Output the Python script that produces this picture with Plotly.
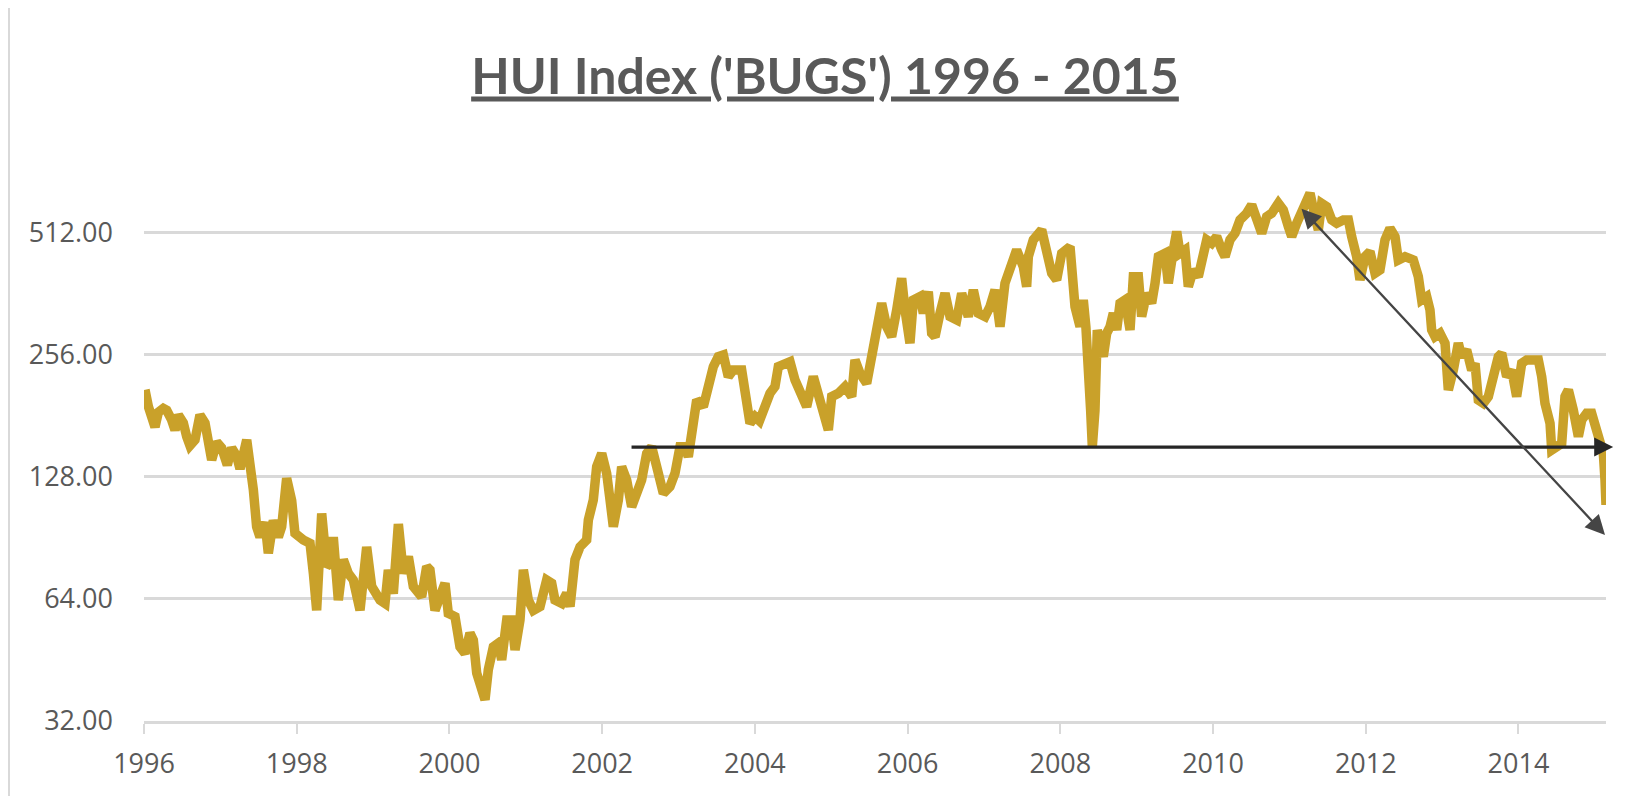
import math
import plotly.graph_objects as go

# ---- data (decimal year, index level) ----
years = [
    1996.013, 1996.057, 1996.144, 1996.188, 1996.253, 1996.297, 1996.362, 1996.406, 1996.450, 1996.515,
    1996.559, 1996.602, 1996.668, 1996.733, 1996.799, 1996.842, 1996.886, 1996.952, 1997.017, 1997.091,
    1997.148, 1997.214, 1997.257, 1997.345, 1997.388, 1997.432, 1997.475, 1997.519, 1997.585, 1997.628,
    1997.694, 1997.759, 1997.803, 1997.868, 1997.934, 1997.977, 1998.087, 1998.174, 1998.218, 1998.261,
    1998.327, 1998.392, 1998.436, 1998.479, 1998.545, 1998.610, 1998.676, 1998.741, 1998.829, 1998.916,
    1998.982, 1999.091, 1999.156, 1999.200, 1999.265, 1999.331, 1999.396, 1999.462, 1999.527, 1999.636,
    1999.702, 1999.745, 1999.811, 1999.898, 1999.942, 1999.985,
    2000.073, 2000.138, 2000.204, 2000.269, 2000.313, 2000.357, 2000.422, 2000.466, 2000.509, 2000.575,
    2000.640, 2000.684, 2000.750, 2000.815, 2000.859, 2000.924, 2000.968, 2001.033, 2001.099, 2001.186,
    2001.273, 2001.339, 2001.382, 2001.470, 2001.535, 2001.579, 2001.644, 2001.710, 2001.797, 2001.819,
    2001.884, 2001.928, 2001.994, 2002.059, 2002.103, 2002.146, 2002.212, 2002.255, 2002.321, 2002.386,
    2002.452, 2002.517, 2002.583, 2002.648, 2002.714, 2002.801, 2002.888, 2002.954, 2003.019, 2003.085,
    2003.128, 2003.172, 2003.238, 2003.325, 2003.390, 2003.456, 2003.521, 2003.587, 2003.652, 2003.718,
    2003.827, 2003.871, 2003.936, 2004.002, 2004.060,
    2004.198, 2004.263, 2004.307, 2004.373, 2004.460, 2004.525, 2004.591, 2004.678, 2004.765, 2004.831,
    2004.896, 2004.962, 2005.006, 2005.093, 2005.180, 2005.268, 2005.311, 2005.377, 2005.464, 2005.508,
    2005.573, 2005.617, 2005.660, 2005.726, 2005.791, 2005.857, 2005.922, 2005.966, 2006.031, 2006.075,
    2006.162, 2006.206, 2006.271, 2006.315, 2006.359, 2006.424, 2006.490, 2006.555, 2006.643, 2006.708,
    2006.795, 2006.861, 2006.926, 2007.014, 2007.079, 2007.145, 2007.210, 2007.275, 2007.341, 2007.428,
    2007.515, 2007.559, 2007.581, 2007.646, 2007.756, 2007.821, 2007.887, 2007.952, 2008.018, 2008.127,
    2008.170, 2008.192, 2008.258, 2008.301, 2008.335, 2008.367, 2008.397, 2008.419, 2008.454, 2008.484,
    2008.520, 2008.563, 2008.607, 2008.651, 2008.694, 2008.738, 2008.782, 2008.847, 2008.913, 2008.956,
    2009.022, 2009.065, 2009.131, 2009.196, 2009.240, 2009.284, 2009.371, 2009.414, 2009.480, 2009.524,
    2009.567, 2009.633, 2009.676, 2009.742, 2009.807, 2009.851, 2009.917, 2009.982, 2010.047, 2010.113,
    2010.157, 2010.222, 2010.288, 2010.353, 2010.440, 2010.506, 2010.571, 2010.637, 2010.702, 2010.768,
    2010.855, 2010.920, 2010.986, 2011.030, 2011.095, 2011.161, 2011.226, 2011.270, 2011.335, 2011.379,
    2011.423, 2011.488, 2011.554, 2011.619, 2011.706, 2011.772, 2011.815, 2011.881, 2011.924,
    2011.990, 2012.055, 2012.121, 2012.186, 2012.252, 2012.317, 2012.383, 2012.426, 2012.514, 2012.623,
    2012.688, 2012.732, 2012.798, 2012.841, 2012.863, 2012.907, 2012.972, 2013.038, 2013.081, 2013.147,
    2013.212, 2013.256, 2013.321, 2013.387, 2013.431, 2013.474, 2013.540, 2013.605, 2013.671, 2013.736,
    2013.780, 2013.845, 2013.911, 2013.976, 2014.042, 2014.107, 2014.195, 2014.260, 2014.304, 2014.347,
    2014.413, 2014.435, 2014.500, 2014.566, 2014.609, 2014.653, 2014.718, 2014.784, 2014.828, 2014.893,
    2014.958, 2015.024, 2015.068, 2015.111, 2015.133, 2015.146,
]

hui = [
    210, 191, 170, 185, 189, 187, 177, 167, 182, 174,
    161, 153, 158, 182, 174, 158, 141, 156, 151, 137,
    151, 144, 134, 158, 141, 119, 96.5, 91, 99, 83,
    100, 91, 96.5, 127, 112, 93, 89.5, 87.8, 74, 60,
    104, 77, 78.4, 91, 63.6, 80, 74, 71.3, 60, 86,
    68.7, 63.6, 62.4, 75.5, 66, 98, 74, 81.4, 68.7, 64.8,
    77, 75.5, 60, 67.4, 70, 59,
    57.9, 48.8, 47, 52.7, 50.7, 42, 37.5, 36.1, 42.8, 48.8,
    49.8, 45.3, 56.8, 56.8, 47.9, 56.8, 75.5, 63.6, 60, 61.3,
    71.3, 70, 63.6, 62.4, 66.1, 61.3, 80, 86.1, 89.5, 100.2,
    112.3, 135.7, 146.3, 130.7, 112.3, 96.5, 112.3, 135.7, 125.8, 108.1,
    116.6, 125.8, 146.3, 152, 135.7, 116.6, 121.2, 130.7, 152, 152,
    143.6, 170.3, 198.2, 190.9, 213.8, 239.6, 253.5, 256, 226.3, 235,
    235, 209.8, 173.6, 180.3, 176,
    205.9, 213.8, 239.6, 244.1, 246.4, 222, 205.9, 190.8, 226.3, 205.9,
    180.3, 167.2, 202, 205.9, 213.8, 202, 248.9, 230.6, 217.9, 239.6,
    268.5, 312.3, 343.4, 300.6, 284, 330.6, 395.6, 330.6, 273.6, 349.9,
    356.6, 324.4, 366.8, 289.6, 284, 324.4, 363.4, 318.3, 312.3, 363.4,
    318.3, 370.3, 324.4, 318.3, 336.8, 370.3, 300.6, 384.7, 414.9, 464.8,
    422.7, 377.4, 447.5, 492.3, 521, 464.8, 407.1, 392, 456, 473.7,
    384.7, 336.8, 300.6, 350, 300, 253.5, 187, 152, 187, 294.9,
    263.5, 253.5, 289.6, 300.6, 324.4, 294.9, 343.4, 349.9, 294.9, 399.4,
    399.4, 318.3, 363.4, 343.4, 384.7, 447.5, 456, 384.7, 464.8, 515.9,
    456, 464.8, 377.4, 414.9, 399.4, 430.8, 492.3, 482.9, 501.6, 464.8,
    447.5, 492.3, 510.9, 551.2, 572.4, 600.4, 561.6, 510.9, 561.6, 572.4,
    605.8, 583.6, 530.7, 501.6, 540.8, 583.6, 629.3, 641.2, 561.6, 521,
    605.8, 594.7, 551.2, 540.8, 551.2, 551.2, 501.6, 447.5, 392,
    447.5, 460.3, 407.1, 414.9, 492.3, 525.7, 501.6, 439.1, 447.5, 439.1,
    399.4, 349.9, 356.6, 330.6, 294.9, 284, 289.6, 273.6, 209.8, 235,
    273.6, 253.5, 263.5, 235, 244.1, 198.2, 194.5, 202, 226.3, 253.5,
    258.5, 226.3, 235, 202, 244.1, 248.9, 248.9, 248.9, 226.3, 194.5,
    173.6, 149.2, 152, 155, 202, 209.8, 187.2, 161, 176.9, 183.8,
    183.8, 167.2, 155, 146.3, 125.8, 109.2,
]

y_tick_vals = [32, 64, 128, 256, 512]
x_tick_vals = [1996, 1998, 2000, 2002, 2004, 2006, 2008, 2010, 2012, 2014]
x_tick_text = ["1996", "1998", "2000", "2002", "2004", "2006", "2008", "2010", "2012", "2014"]

# arrows: [tail, head]
flat_arrow_x = [2002.365, 2015.24]
flat_arrow_y = [151.7, 151.7]
trend_arrow_x = [2011.14, 2015.133]
trend_arrow_y = [592.6, 92.1]

title_text = "HUI Index ('BUGS') 1996 - 2015"

GOLD = "#C9A12A"
GREY_TXT = "#595959"
GRID = "#D9D9D9"

# page has an 8px body margin, so the figure is sized to fit inside it
FIG_W, FIG_H = 1634, 788
M_L, M_R, M_T, M_B = 136, 36, 142, 75
PLOT_W = FIG_W - M_L - M_R
PLOT_H = FIG_H - M_T - M_B

fig = go.Figure()
fig.add_trace(go.Scatter(
    x=years, y=hui, mode="lines",
    line=dict(color=GOLD, width=9.5),
    hoverinfo="skip", showlegend=False,
))

fig.update_layout(
    width=FIG_W, height=FIG_H,
    margin=dict(l=M_L, r=M_R, t=M_T, b=M_B),
    paper_bgcolor="white", plot_bgcolor="white",
    showlegend=False,
    title=dict(
        text="<b><u>" + title_text + "</u></b>",
        x=(825 - 8) / FIG_W, xref="container", xanchor="center",
        y=1 - 68 / FIG_H, yref="container", yanchor="middle",
        font=dict(family="Lato", size=50, color=GREY_TXT),
    ),
)

fig.update_xaxes(
    type="linear",
    range=[1996, 2015.146],
    tickvals=x_tick_vals, ticktext=x_tick_text,
    showgrid=False, zeroline=False,
    showline=True, linecolor=GRID, linewidth=3,
    ticks="outside", ticklen=10, tickwidth=2, tickcolor=GRID,
    tickfont=dict(family="Open Sans", size=27, color=GREY_TXT),
    ticklabelstandoff=7,
)

fig.update_yaxes(
    type="log",
    range=[math.log10(32), math.log10(820)],
    tickvals=y_tick_vals, tickformat=".2f",
    showgrid=True, gridcolor=GRID, gridwidth=2.5,
    showline=False, zeroline=False, ticks="",
    tickfont=dict(family="Open Sans", size=27, color=GREY_TXT),
    ticklabelstandoff=30,
)

fig.add_annotation(
    x=flat_arrow_x[1], y=math.log10(flat_arrow_y[1]),
    ax=flat_arrow_x[0], ay=math.log10(flat_arrow_y[0]),
    xref="x", yref="y", axref="x", ayref="y",
    text="", showarrow=True,
    arrowhead=2, arrowsize=1.15, arrowwidth=3.3, arrowcolor="#262626",
)
fig.add_annotation(
    x=trend_arrow_x[1], y=math.log10(trend_arrow_y[1]),
    ax=trend_arrow_x[0], ay=math.log10(trend_arrow_y[0]),
    xref="x", yref="y", axref="x", ayref="y",
    text="", showarrow=True, arrowside="end+start",
    arrowhead=2, startarrowhead=2, arrowsize=1.7, startarrowsize=1.7,
    arrowwidth=2.3, arrowcolor="#454545",
)

# light frame edge at the left of the chart area
fig.add_shape(
    type="line", xref="paper", yref="paper",
    x0=-(M_L - 1) / PLOT_W, x1=-(M_L - 1) / PLOT_W,
    y0=-M_B / PLOT_H, y1=1 + M_T / PLOT_H,
    line=dict(color=GRID, width=2),
)

fig.write_html("out.html")
